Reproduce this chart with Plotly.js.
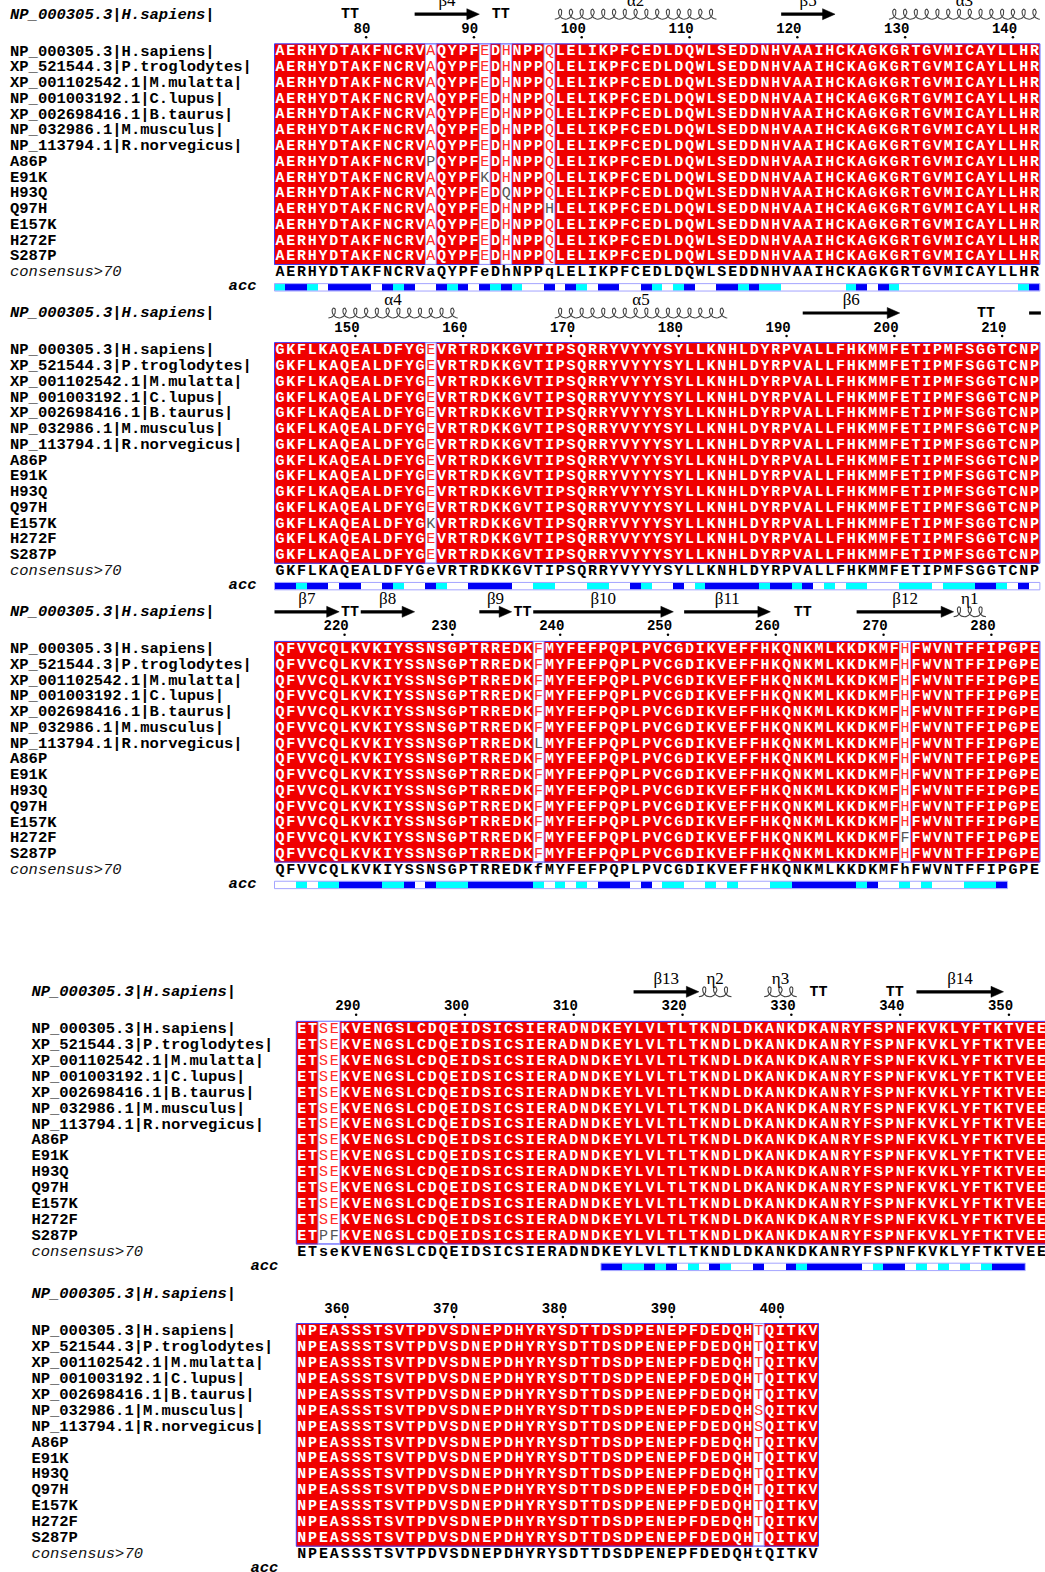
<!DOCTYPE html>
<html><head><meta charset="utf-8">
<script src="https://cdn.plot.ly/plotly-3.0.1.min.js"></script>
<style>html,body{margin:0;padding:0;background:#fff}#chart{width:1045px;height:1572px}</style>
</head><body><div id="chart"></div>
<script>
// ================= DATA =================
const seqNames = ["NP_000305.3|H.sapiens|", "XP_521544.3|P.troglodytes|", "XP_001102542.1|M.mulatta|",
  "NP_001003192.1|C.lupus|", "XP_002698416.1|B.taurus|", "NP_032986.1|M.musculus|",
  "NP_113794.1|R.norvegicus|", "A86P", "E91K", "H93Q", "Q97H", "E157K", "H272F", "S287P"];
const headerName = "NP_000305.3|H.sapiens|";
const consensusLabel = "consensus>70";
const accLabel = "acc";
const blockStart = [72, 143, 214, 285, 356];
const refBlocks = [
  "AERHYDTAKFNCRVAQYPFEDHNPPQLELIKPFCEDLDQWLSEDDNHVAAIHCKAGKGRTGVMICAYLLHR",
  "GKFLKAQEALDFYGEVRTRDKKGVTIPSQRRYVYYYSYLLKNHLDYRPVALLFHKMMFETIPMFSGGTCNP",
  "QFVVCQLKVKIYSSNSGPTRREDKFMYFEFPQPLPVCGDIKVEFFHKQNKMLKKDKMFHFWVNTFFIPGPE",
  "ETSEKVENGSLCDQEIDSICSIERADNDKEYLVLTLTKNDLDKANKDKANRYFSPNFKVKLYFTKTVEEPS",
  "NPEASSSTSVTPDVSDNEPDHYRYSDTTDSDPENEPFDEDQHTQITKV"
];
// residues that differ from the human reference (row index, residue number, residue)
const variantRow = [5, 6, 6, 7, 8, 9, 10, 11, 12, 13, 13];
const variantPos = [398, 238, 398, 86, 91, 93, 97, 157, 272, 287, 288];
const variantRes = ["S", "L", "S", "P", "K", "Q", "H", "K", "F", "P", "F"];
const similarGroups = ["ST"];
// relative accessibility: b = accessible, c = intermediate, w = buried, - = no data
const accBlocks = [
  ["cbbcw","bbbbw","bcbww","bcbwb","cbcww","bwbcw","bbwwb","cwcbw","wbbcb","ccwww","wwwcb","wbcww","wwwww","wwwwc","b"].join(""),
  ["bbcbb","wbbww","bcwwb","cwwbb","bbwwc","cwwwc","cwwbc","wwbwc","bbbbb","cbbcb","wcwcc","wwwcc","cwccc","bbcwb","w"].join(""),
  ["wwcwc","cbbbb","ccbwb","cccbb","bbbbc","wcwcw","bbbwb","wccww","cwcww","wccbb","bbbbc","bwwcw","cwwwc","ccb","---"].join(""),
  ["-----","-----","-----","-----","-----","---","bbccb","cbwcw","bcwwb","wwbcb","bbbbw","cbbwc","wcwcw","cbbb","----"].join(""),
  "------------------------------------------------"
];
// secondary structure (residue numbers)
const helixLabel = ["α2", "α3", "α4", "α5", "η1", "η2", "η3"];
const helixStart = [98, 129, 148, 169, 277, 322, 328];
const helixEnd   = [112, 142, 159, 184, 279, 324, 330];
const strandLabel = ["β4", "β5", "β6", "β7", "β8", "β9", "β10", "β11", "β12", "β13", "β14"];
const strandStart = [85, 119, 192, 213, 222, 233, 238, 252, 268, 316, 342];
const strandEnd   = [90, 123, 200, 219, 226, 235, 250, 259, 276, 321, 349];
const turnStart = [78, 92, 208, 220, 236, 262, 332, 339];

// ================= LAYOUT CONSTANTS =================
const L = {
  x0: [274.5, 274.5, 274.5, 296.3, 296.3],
  cw: [10.78, 10.78, 10.78, 10.88, 10.88],
  r0: [51.7, 350.5, 649.3, 1029.3, 1331.5],
  rh: [15.76, 15.76, 15.76, 15.9, 15.9],
  nameX: [10, 10, 10, 31.4, 31.4]
};
const RED = '#f00000', BLUE = '#0000f5', CYAN = '#00ffff';
const MONO = 'Liberation Mono, DejaVu Sans Mono, monospace';
const SERIF = 'Liberation Serif, DejaVu Serif, serif';

const nRows = seqNames.length;
const nBlocks = refBlocks.length;
const variantMap = {};
variantRow.forEach((r, k) => { variantMap[r + ':' + variantPos[k]] = variantRes[k]; });
const similar = (a, b) => a === b || similarGroups.some(g => g.includes(a) && g.includes(b));
const xEdge = (b, i) => L.x0[b] + i * L.cw[b];
const xCen = (b, i) => L.x0[b] + (i + 0.5) * L.cw[b];

const traces = [], shapes = [];
function bucket() { return {x: [], y: [], text: []}; }
const T = {white: bucket(), red: bucket(), gray: bucket(), cons: bucket(), names: bucket(),
  hdr: bucket(), conslab: bucket(), acclab: bucket(), num: bucket(), dots: bucket(),
  tt: bucket(), sslab: bucket()};

for (let b = 0; b < nBlocks; b++) {
  const seq = refBlocks[b], n = seq.length, st = blockStart[b];
  const r0 = L.r0[b], rh = L.rh[b];
  const top = r0 - rh / 2, bottom = top + nRows * rh;
  const grid = [];
  for (let r = 0; r < nRows; r++) {
    grid.push([]);
    for (let i = 0; i < n; i++) grid[r].push(variantMap[r + ':' + (st + i)] || seq[i]);
  }
  const conserved = [], major = [];
  for (let i = 0; i < n; i++) {
    const cnt = {};
    grid.forEach(row => { cnt[row[i]] = (cnt[row[i]] || 0) + 1; });
    let best = null; Object.keys(cnt).forEach(k => { if (best === null || cnt[k] > cnt[best]) best = k; });
    major.push(best);
    conserved.push(cnt[best] === nRows);
  }
  // background cells
  const xe = [], ye = [];
  for (let i = 0; i <= n; i++) xe.push(xEdge(b, i));
  for (let r = 0; r <= nRows; r++) ye.push(top + r * rh);
  const z = grid.map(row => row.map((_, i) => conserved[i] ? 1 : 0));
  traces.push({type: 'heatmap', x: xe, y: ye, z: z, zmin: 0, zmax: 1,
    colorscale: [[0, '#ffffff'], [1, RED]], showscale: false, hoverinfo: 'skip'});
  // frames
  shapes.push({type: 'rect', xref: 'x', yref: 'y', x0: xe[0], x1: xe[n], y0: top, y1: bottom,
    line: {color: '#3a3aff', width: 1}, layer: 'above'});
  let i = 0;
  while (i < n) {
    if (!conserved[i]) {
      let j = i; while (j + 1 < n && !conserved[j + 1]) j++;
      shapes.push({type: 'rect', xref: 'x', yref: 'y', x0: xe[i], x1: xe[j + 1], y0: top, y1: bottom,
        line: {color: '#9a9aff', width: 1}, layer: 'above'});
      i = j + 1;
    } else i++;
  }
  // residue letters
  for (let r = 0; r < nRows; r++) {
    const y = r0 + r * rh;
    for (let k = 0; k < n; k++) {
      const res = grid[r][k];
      const tgt = conserved[k] ? T.white : (similar(res, major[k]) ? T.red : T.gray);
      tgt.x.push(xCen(b, k)); tgt.y.push(y); tgt.text.push(res);
    }
    T.names.x.push(L.nameX[b]); T.names.y.push(y); T.names.text.push(seqNames[r]);
  }
  // consensus
  const yc = r0 + nRows * rh;
  for (let k = 0; k < n; k++) {
    T.cons.x.push(xCen(b, k)); T.cons.y.push(yc);
    T.cons.text.push(conserved[k] ? major[k] : major[k].toLowerCase());
  }
  T.conslab.x.push(L.nameX[b]); T.conslab.y.push(yc); T.conslab.text.push(consensusLabel);
  // header
  T.hdr.x.push(L.nameX[b]); T.hdr.y.push(r0 - 37); T.hdr.text.push(headerName);
  // numbering
  for (let k = 0; k < n; k++) {
    const pos = st + k;
    if (pos % 10 === 0) {
      const s = String(pos);
      T.num.x.push(xCen(b, k) - (s.length - 1) * 8.4 / 2); T.num.y.push(r0 - 22.4); T.num.text.push(s);
      T.dots.x.push(xCen(b, k)); T.dots.y.push(r0 - 14.5);
    }
  }
  // accessibility bar
  const ya = yc + 15;
  const acc = accBlocks[b];
  const accZ = [];
  let first = -1, last = -1;
  for (let k = 0; k < n; k++) {
    const c = acc[k];
    const v = c === 'b' ? 2 : c === 'c' ? 1 : c === 'w' ? 0 : null;
    accZ.push(v);
    if (v !== null) { if (first < 0) first = k; last = k; }
  }
  if (first >= 0) {
    traces.push({type: 'heatmap', x: xe, y: [ya - 3.7, ya + 3.7], z: [accZ], zmin: 0, zmax: 2,
      colorscale: [[0, '#ffffff'], [0.33, '#ffffff'], [0.34, CYAN], [0.66, CYAN], [0.67, BLUE], [1, BLUE]],
      showscale: false, hoverinfo: 'skip'});
    shapes.push({type: 'rect', xref: 'x', yref: 'y', x0: xe[first], x1: xe[last + 1], y0: ya - 3.7, y1: ya + 3.7,
      line: {color: '#a4a4ff', width: 1}, layer: 'above'});
  }
  T.acclab.x.push(L.x0[b] - 18); T.acclab.y.push(ya - 1); T.acclab.text.push(accLabel);
}

// secondary structure
function segments(s, e) {
  const out = [];
  for (let b = 0; b < nBlocks; b++) {
    const st = blockStart[b], en = st + refBlocks[b].length - 1;
    const a = Math.max(s, st), c = Math.min(e, en);
    if (a <= c) out.push({b: b, i0: a - st, i1: c - st, len: c - a + 1, hasEnd: c === e});
  }
  return out;
}
const shaft = {x: [], y: []}, head = {x: [], y: []}, coilXY = {x: [], y: []};
strandStart.forEach((s, k) => {
  const segs = segments(s, strandEnd[k]);
  let best = segs[0]; segs.forEach(g => { if (g.len > best.len) best = g; });
  segs.forEach(g => {
    const y = L.r0[g.b] - 37.5;
    const xl = xEdge(g.b, g.i0), xr = xEdge(g.b, g.i1 + 1);
    const hl = g.hasEnd ? 12.5 : 0;
    shaft.x.push(xl, xr - hl + 1, null); shaft.y.push(y, y, null);
    if (g.hasEnd) {
      head.x.push(xr - hl, xr, xr - hl, xr - hl, null);
      head.y.push(y - 5.5, y, y + 5.5, y - 5.5, null);
    }
    if (g === best) { T.sslab.x.push((xl + xr) / 2); T.sslab.y.push(L.r0[g.b] - 50); T.sslab.text.push(strandLabel[k]); }
  });
});
helixStart.forEach((s, k) => {
  const segs = segments(s, helixEnd[k]);
  let best = segs[0]; segs.forEach(g => { if (g.len > best.len) best = g; });
  segs.forEach(g => {
    const yc = L.r0[g.b] - 37.5;
    const xl = xEdge(g.b, g.i0), xr = xEdge(g.b, g.i1 + 1);
    const loops = g.len, step = (xr - xl) / loops, steps = 24 * loops;
    for (let q = 0; q <= steps; q++) {
      const t = 2 * Math.PI * q / 24;
      coilXY.x.push(xl + step * t / (2 * Math.PI) + 4.0 * Math.sin(t));
      coilXY.y.push(yc + 5.0 * Math.cos(t));
    }
    coilXY.x.push(null); coilXY.y.push(null);
    if (g === best) { T.sslab.x.push((xl + xr) / 2); T.sslab.y.push(L.r0[g.b] - 50); T.sslab.text.push(helixLabel[k]); }
  });
});
turnStart.forEach(s => {
  const g = segments(s, s + 1)[0];
  T.tt.x.push(xEdge(g.b, g.i0 + 1)); T.tt.y.push(L.r0[g.b] - 37); T.tt.text.push('TT');
});

traces.push({type: 'scatter', mode: 'lines', x: shaft.x, y: shaft.y, line: {color: '#000', width: 3.2}, hoverinfo: 'skip', connectgaps: false});
traces.push({type: 'scatter', mode: 'lines', x: head.x, y: head.y, fill: 'toself', fillcolor: '#000', line: {color: '#000', width: 0.5}, hoverinfo: 'skip', connectgaps: false});
traces.push({type: 'scatter', mode: 'lines', x: coilXY.x, y: coilXY.y, line: {color: '#444', width: 1.1}, hoverinfo: 'skip', connectgaps: false});

function txtTrace(bk, pos, font) {
  traces.push({type: 'scatter', mode: 'text', x: bk.x, y: bk.y, text: bk.text, textposition: pos,
    textfont: font, hoverinfo: 'skip', cliponaxis: true});
}
txtTrace(T.white, 'middle center', {family: MONO, size: 15, color: '#ffffff', weight: 'bold'});
txtTrace(T.red, 'middle center', {family: MONO, size: 15, color: '#ff2a2a'});
txtTrace(T.gray, 'middle center', {family: MONO, size: 15, color: '#555555'});
txtTrace(T.cons, 'middle center', {family: MONO, size: 15, color: '#000', weight: 'bold'});
txtTrace(T.names, 'middle right', {family: MONO, size: 15.5, color: '#000', weight: 'bold'});
txtTrace(T.hdr, 'middle right', {family: MONO, size: 15.5, color: '#000', weight: 'bold', style: 'italic'});
txtTrace(T.conslab, 'middle right', {family: MONO, size: 15.5, color: '#111', style: 'italic'});
txtTrace(T.acclab, 'middle left', {family: MONO, size: 15.5, color: '#000', weight: 'bold', style: 'italic'});
txtTrace(T.num, 'middle center', {family: MONO, size: 14, color: '#000', weight: 'bold'});
txtTrace(T.tt, 'middle center', {family: MONO, size: 15, color: '#000', weight: 'bold'});
txtTrace(T.sslab, 'middle center', {family: SERIF, size: 17, color: '#000'});
traces.push({type: 'scatter', mode: 'markers', x: T.dots.x, y: T.dots.y, marker: {size: 2.5, color: '#000'}, hoverinfo: 'skip'});

const layout = {
  width: 1045, height: 1572, margin: {l: 0, r: 0, t: 0, b: 0},
  paper_bgcolor: '#ffffff', plot_bgcolor: '#ffffff', showlegend: false, hovermode: false,
  xaxis: {range: [0, 1045], visible: false, fixedrange: true},
  yaxis: {range: [1572, 0], visible: false, fixedrange: true},
  shapes: shapes
};
Plotly.newPlot('chart', traces, layout, {staticPlot: true, displayModeBar: false});
</script>
</body></html>
